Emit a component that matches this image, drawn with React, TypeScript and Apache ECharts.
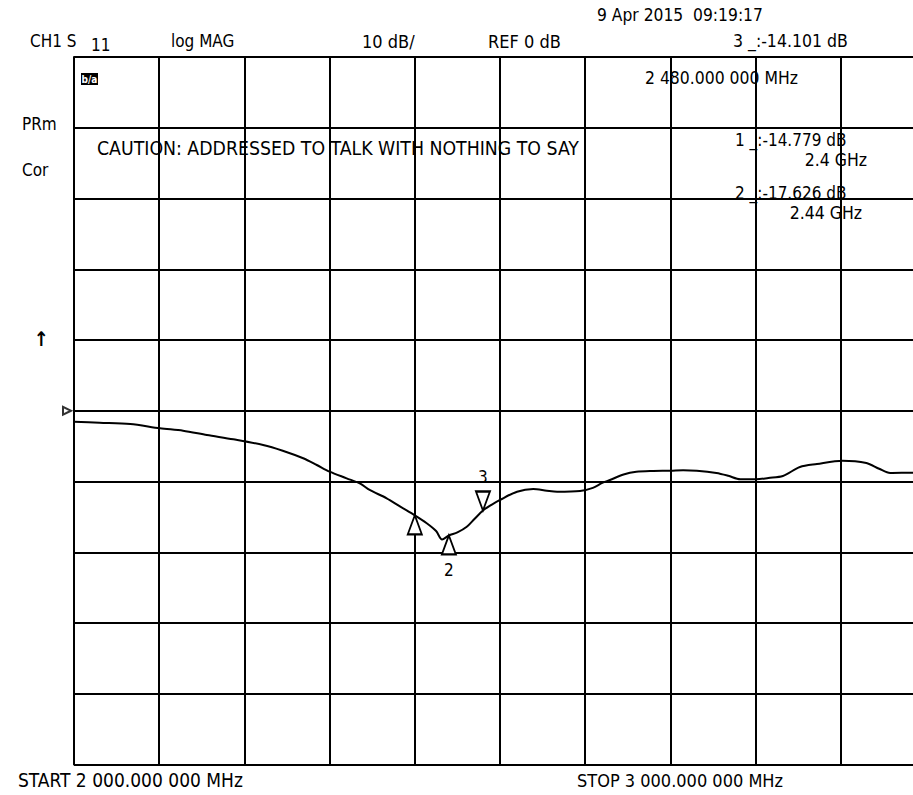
import React, { useEffect, useRef } from "react";
import * as echarts from "echarts";

const freqMHz = [2000, 2030, 2066, 2101, 2128, 2156, 2187, 2222, 2245, 2269, 2285, 2300, 2320, 2336, 2347, 2367, 2383, 2400, 2414, 2425, 2432, 2440, 2450, 2461, 2470, 2480, 2490, 2500, 2520, 2539, 2555, 2567, 2594, 2609, 2620, 2629, 2645, 2660, 2680, 2700, 2715, 2731, 2754, 2768, 2782, 2801, 2815, 2832, 2852, 2872, 2902, 2930, 2945, 2958, 2985, 3000];
const traceDb = [-1.55, -1.69, -1.87, -2.48, -2.82, -3.43, -4.04, -4.84, -5.65, -6.72, -7.67, -8.61, -9.55, -10.3, -11.2, -12.37, -13.56, -14.78, -15.9, -17.0, -18.2, -17.63, -17.2, -16.4, -15.3, -14.1, -13.3, -12.6, -11.44, -11.06, -11.3, -11.44, -11.34, -10.9, -10.2, -9.79, -9.0, -8.61, -8.5, -8.47, -8.4, -8.47, -8.8, -9.2, -9.69, -9.69, -9.5, -9.22, -7.95, -7.53, -7.06, -7.39, -8.2, -8.8, -8.76, -8.8];

const markerFreq = [2400, 2440, 2480];
const markerDb = [-14.779, -17.626, -14.101];
const markerNames = ["1", "2", "3"];
const markerPointsDown = [false, false, true];

const refLevelDb = 0;
const startMHz = 2000;
const stopMHz = 3000;
const dbPerDiv = 10;

const leftTexts = [
  { text: "CH1 S", x: 30, y: 41, size: 17 },
  { text: "11", x: 91, y: 45, size: 17 },
  { text: "log MAG", x: 171, y: 41, size: 17 },
  { text: "10 dB/", x: 362, y: 41, size: 18 },
  { text: "REF 0 dB", x: 488, y: 41, size: 18 },
  { text: "3 _:-14.101 dB", x: 733, y: 41, size: 17.5 },
  { text: "9 Apr 2015  09:19:17", x: 597, y: 15, size: 17.3 },
  { text: "2 480.000 000 MHz", x: 645, y: 78, size: 17.4 },
  { text: "PRm", x: 22, y: 124, size: 17 },
  { text: "Cor", x: 22, y: 170, size: 17 },
  { text: "CAUTION: ADDRESSED TO TALK WITH NOTHING TO SAY", x: 97, y: 148, size: 19.3 },
  { text: "1 _:-14.779 dB", x: 735, y: 140, size: 17 },
  { text: "2 _:-17.626 dB", x: 735, y: 193, size: 17 },
  { text: "START 2 000.000 000 MHz", x: 18, y: 780, size: 19 },
  { text: "STOP 3 000.000 000 MHz", x: 577, y: 780, size: 18 },
];
const rightTexts = [
  { text: "2.4 GHz", x: 867, y: 160, size: 17.5 },
  { text: "2.44 GHz", x: 862, y: 213, size: 17.5 },
];

const FONT = "'DejaVu Sans Condensed','DejaVu Sans',sans-serif";

export default function App() {
  const ref = useRef<HTMLDivElement>(null);
  useEffect(() => {
    if (!ref.current) return;
    const chart = echarts.init(ref.current, null, { renderer: "svg" });
    const graphics: any[] = [];
    leftTexts.forEach((t) => {
      graphics.push({
        type: "text",
        x: t.x,
        y: t.y,
        z: -1,
        style: { text: t.text, fill: "#000", font: `${t.size}px ${FONT}`, textVerticalAlign: "middle", textAlign: "left" },
      });
    });
    rightTexts.forEach((t) => {
      graphics.push({
        type: "text",
        x: t.x,
        y: t.y,
        z: -1,
        style: { text: t.text, fill: "#000", font: `${t.size}px ${FONT}`, textVerticalAlign: "middle", textAlign: "right" },
      });
    });
    graphics.push({
      type: "text",
      x: 41,
      y: 339,
      style: { text: "↑", fill: "#000", font: `bold 20px ${FONT}`, textVerticalAlign: "middle", textAlign: "center" },
    });
    graphics.push({
      type: "group",
      x: 81,
      y: 73,
      children: [
        { type: "rect", shape: { x: 0, y: 0, width: 17, height: 12 }, style: { fill: "#000" } },
        { type: "text", x: 8.5, y: 6, style: { text: "b/a", fill: "#fff", font: `bold 10px ${FONT}`, textAlign: "center", textVerticalAlign: "middle" } },
      ],
    });

    const option: any = {
      animation: false,
      backgroundColor: "#fff",
      grid: { left: 74, top: 57, width: 852, height: 707.5, containLabel: false },
      xAxis: {
        type: "value",
        min: startMHz,
        max: stopMHz,
        interval: 100,
        axisLabel: { show: false },
        axisLine: { show: true, lineStyle: { color: "#000", width: 2 } },
        axisTick: { show: true, length: 3, lineStyle: { color: "#000", width: 2 } },
        splitLine: { show: true, lineStyle: { color: "#000", width: 2 } },
      },
      yAxis: {
        type: "value",
        min: refLevelDb - 5 * dbPerDiv,
        max: refLevelDb + 5 * dbPerDiv,
        interval: dbPerDiv,
        axisLabel: { show: false },
        axisLine: { show: true, lineStyle: { color: "#000", width: 2 } },
        axisTick: { show: false },
        splitLine: { show: true, lineStyle: { color: "#000", width: 2 } },
      },
      graphic: graphics,
      series: [
        {
          type: "line",
          data: freqMHz.map((f, i) => [f, traceDb[i]]),
          showSymbol: false,
          smooth: 0.3,
          lineStyle: { color: "#000", width: 2 },
          z: 3,
        },
        {
          type: "scatter",
          z: 4,
          data: markerFreq.map((f, i) => ({
            value: [f, markerDb[i]],
            symbolRotate: markerPointsDown[i] ? 180 : 0,
            symbolOffset: markerPointsDown[i] ? [0, "-50%"] : [0, "50%"],
            label: {
              show: i !== 0,
              position: markerPointsDown[i] ? "top" : "bottom",
              distance: markerPointsDown[i] ? 5 : 6,
              formatter: markerNames[i],
            },
          })),
          symbol: "triangle",
          symbolSize: [14, 19],
          itemStyle: { color: "#fff", borderColor: "#000", borderWidth: 2, opacity: 1 },
          label: { color: "#000", fontFamily: FONT, fontSize: 17 },
        },
        {
          type: "scatter",
          z: 4,
          data: [[startMHz, refLevelDb]],
          symbol: "triangle",
          symbolRotate: -90,
          symbolSize: [8, 8],
          symbolOffset: [-7, 0],
          itemStyle: { color: "#fff", borderColor: "#000", borderWidth: 2 },
        },
      ],
    };
    chart.setOption(option);
    return () => chart.dispose();
  }, []);
  return (
    <div style={{ position: "fixed", left: 0, top: 0, width: 913, height: 795, overflow: "hidden", background: "#fff" }}>
      <div ref={ref} style={{ width: 940, height: 795 }} />
    </div>
  );
}
